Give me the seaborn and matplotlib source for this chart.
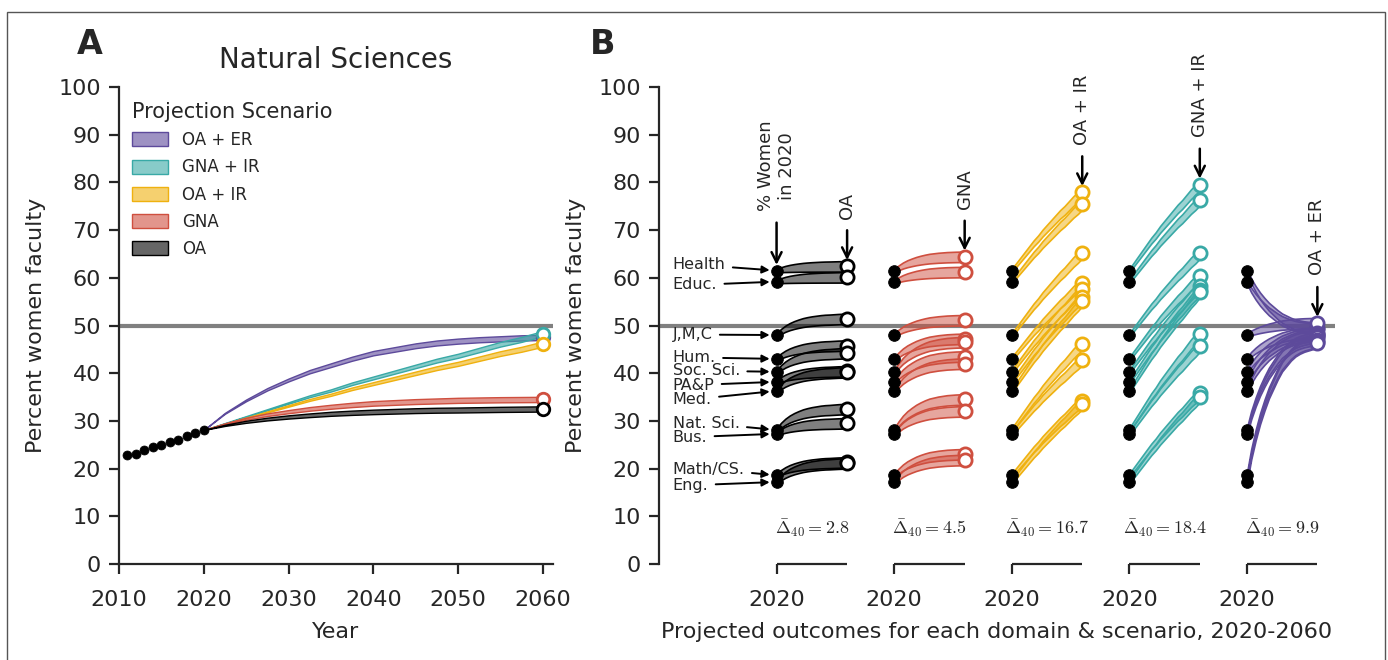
import numpy as np
import pandas as pd
import matplotlib
matplotlib.use("Agg")
import matplotlib.pyplot as plt
from matplotlib.patches import Patch, Rectangle
from matplotlib.colors import to_rgba
import seaborn as sns

# ---- data ----
SCENARIOS = ['OA', 'GNA', 'OA + IR', 'GNA + IR', 'OA + ER']
COLORS = ['#000000', '#cf4f3f', '#efb10f', '#39a9a6', '#5d4a9b']
DELTA_40 = [2.8, 4.5, 16.7, 18.4, 9.9]

DOMAINS = ['Health', 'Educ.', 'J,M,C', 'Hum.', 'Soc. Sci.', 'PA&P', 'Med.',
           'Nat. Sci.', 'Bus.', 'Math/CS.', 'Eng.']
PCT_2020 = [61.5, 59.2, 48.0, 43.0, 40.3, 38.2, 36.3, 28.1, 27.3, 18.6, 17.2]
LABEL_Y = [62.7, 58.5, 48.1, 43.3, 40.5, 37.5, 34.5, 29.5, 26.6, 19.9, 16.5]

END_OA = [62.4, 60.1, 51.4, 45.8, 44.2, 40.4, 40.2, 32.5, 29.5, 21.3, 21.1]
END_GNA = [64.4, 61.2, 51.1, 47.2, 46.5, 43.5, 42.0, 34.5, 32.0, 23.0, 21.8]
END_OA_IR = [77.9, 75.4, 65.2, 59.0, 57.6, 56.0, 55.2, 46.1, 42.8, 34.2, 33.6]
END_GNA_IR = [79.5, 76.3, 65.1, 60.3, 58.3, 57.5, 57.0, 48.3, 45.6, 35.8, 35.0]
END_OA_ER = [49.5, 49.3, 50.5, 48.5, 48.3, 48.0, 47.8, 47.5, 47.0, 46.5, 46.3]
END_ALL = [END_OA, END_GNA, END_OA_IR, END_GNA_IR, END_OA_ER]

# share of the 2020->2060 change reached at each year
PROFILE_YEARS = [2020, 2022.5, 2025, 2027.5, 2030, 2032.5, 2035, 2037.5, 2040,
                 2042.5, 2045, 2047.5, 2050, 2052.5, 2055, 2057.5, 2060]
PROG_OA = [0, .22, .39, .52, .62, .70, .77, .82, .86, .89, .92, .94, .95, .965, .98, .99, 1.0]
PROG_GNA = [0, .20, .37, .50, .60, .69, .76, .82, .87, .90, .93, .95, .97, .98, .99, .995, 1.0]
PROG_OA_IR = [0, .07, .14, .21, .28, .35, .41, .48, .54, .60, .66, .72, .77, .83, .89, .94, 1.0]
PROG_GNA_IR = [0, .07, .14, .21, .28, .35, .41, .48, .54, .60, .66, .72, .77, .83, .89, .94, 1.0]
PROG_OA_ER = [0, .18, .32, .44, .54, .63, .70, .77, .83, .87, .91, .94, .96, .975, .985, .995, 1.0]
PROG_ALL = [PROG_OA, PROG_GNA, PROG_OA_IR, PROG_GNA_IR, PROG_OA_ER]

NATSCI_YEARS = [2011, 2012, 2013, 2014, 2015, 2016, 2017, 2018, 2019, 2020]
NATSCI_PCT = [22.8, 23.1, 23.9, 24.5, 25.0, 25.5, 25.9, 26.8, 27.5, 28.1]
NAT_IDX = DOMAINS.index('Nat. Sci.')

# ---- style ----
sns.set_style('ticks')
plt.rcParams.update({
    'font.family': ['DejaVu Sans'],
    'mathtext.fontset': 'cm',
    'axes.linewidth': 1.6,
    'xtick.major.width': 1.6, 'ytick.major.width': 1.6,
    'xtick.major.size': 7, 'ytick.major.size': 7,
    'xtick.major.pad': 12, 'ytick.major.pad': 6,
    'xtick.labelsize': 16, 'ytick.labelsize': 16,
})

fig = plt.figure(figsize=(13.88, 6.6), dpi=100)
axA = fig.add_axes([119 / 1388, 96 / 660, (553 - 119) / 1388, 477 / 660])
axB = fig.add_axes([659 / 1388, 96 / 660, (1335 - 659) / 1388, 477 / 660])

# ---- Panel A: Natural Sciences ----
axA.axhline(50, color='gray', lw=3, zorder=1)
years = np.array(PROFILE_YEARS)
for s in [4, 3, 2, 1, 0]:
    prog = np.array(PROG_ALL[s])
    start = NATSCI_PCT[-1]
    end = END_ALL[s][NAT_IDX]
    mid = start + prog * (end - start)
    hw = 0.55 * prog
    axA.fill_between(years, mid - hw, mid + hw, facecolor=to_rgba(COLORS[s], 0.6),
                     edgecolor=COLORS[s], lw=1, zorder=3)
for s in [4, 3, 2, 1, 0]:
    axA.plot(2060, END_ALL[s][NAT_IDX], 'o', ms=9, mfc='white', mec=COLORS[s],
             mew=2, zorder=6, clip_on=False)
sns.scatterplot(x=NATSCI_YEARS, y=NATSCI_PCT, color='black', s=42, edgecolor='black',
                zorder=5, ax=axA, legend=False)

axA.set_xlim(2010, 2061.2)
axA.set_ylim(0, 100)
axA.set_xticks(range(2010, 2061, 10))
axA.set_yticks(range(0, 101, 10))
axA.set_xlabel('Year', fontsize=16, labelpad=8)
axA.set_ylabel('Percent women faculty', fontsize=16, labelpad=9)
axA.set_title('Natural Sciences', fontsize=20, pad=14)
sns.despine(ax=axA)

handles = [Patch(facecolor=to_rgba(COLORS[s], 0.6), edgecolor=COLORS[s], lw=1)
           for s in [4, 3, 2, 1, 0]]
labels = [SCENARIOS[s] for s in [4, 3, 2, 1, 0]]
axA.legend(handles, labels, title='Projection Scenario', loc='upper left',
           bbox_to_anchor=(-0.005, 1.0), frameon=False, fontsize=12, title_fontsize=15,
           handlelength=2.2, handleheight=0.9, labelspacing=0.55, alignment='left')

# ---- Panel B: all domains, all scenarios ----
SPAN = 0.6
axB.axhline(50, color='gray', lw=3, zorder=1)
for k in range(5):
    prog = np.array(PROG_ALL[k])
    xs = k + (years - 2020) / 40 * SPAN
    for d in range(len(DOMAINS)):
        start = PCT_2020[d]
        end = END_ALL[k][d]
        mid = start + prog * (end - start)
        hw = 0.35 + 0.75 * prog
        axB.fill_between(xs, mid - hw, mid + hw, facecolor=to_rgba(COLORS[k], 0.5),
                         edgecolor=COLORS[k], lw=1.2, zorder=3)
    sns.scatterplot(x=[k] * len(DOMAINS), y=PCT_2020, color='black', s=70,
                    edgecolor='black', zorder=5, ax=axB, legend=False)
    axB.plot([k + SPAN] * len(DOMAINS), END_ALL[k], 'o', ls='none', ms=9.5,
             mfc='white', mec=COLORS[k], mew=2, zorder=6)
    # bracket in place of the bottom spine
    axB.plot([k, k + SPAN], [0, 0], color='#262626', lw=1.6, clip_on=False,
             solid_capstyle='butt', zorder=2)
    axB.text(k + SPAN / 2, 7.5, rf'$\bar{{\Delta}}_{{40}} = {DELTA_40[k]}$',
             ha='center', va='center', fontsize=13)
    top = END_ALL[k][0] if k < 4 else max(END_ALL[k])
    axB.annotate(SCENARIOS[k], xy=(k + SPAN, top + 1.3), xytext=(k + SPAN, top + 10),
                 rotation=90, ha='center', va='bottom', fontsize=13,
                 arrowprops=dict(arrowstyle='->', color='black', lw=1.8,
                                 mutation_scale=18, shrinkA=6, shrinkB=0))

axB.annotate('% Women\nin 2020', xy=(0, PCT_2020[0] + 1.2), xytext=(0, PCT_2020[0] + 12.5),
             rotation=90, ha='center', va='bottom', fontsize=13, multialignment='center',
             arrowprops=dict(arrowstyle='->', color='black', lw=1.8,
                             mutation_scale=18, shrinkA=6, shrinkB=0))

for d, name in enumerate(DOMAINS):
    axB.annotate(name, xy=(0, PCT_2020[d]), xytext=(-0.885, LABEL_Y[d]),
                 ha='left', va='center', fontsize=11.5,
                 arrowprops=dict(arrowstyle='-|>', color='black', lw=1.4,
                                 mutation_scale=11, shrinkA=3, shrinkB=5))

axB.set_xlim(-1.0, 4.75)
axB.set_ylim(0, 100)
axB.set_yticks(range(0, 101, 10))
axB.set_xticks(range(5))
axB.set_xticklabels(['2020'] * 5)
axB.set_ylabel('Percent women faculty', fontsize=16, labelpad=9)
axB.set_xlabel('Projected outcomes for each domain & scenario, 2020-2060', fontsize=16,
               labelpad=8)
sns.despine(ax=axB)
axB.spines['bottom'].set_visible(False)

# panel letters and outer frame
fig.text(90 / 1388, 1 - 45 / 660, 'A', fontsize=24, fontweight='bold', ha='center', va='center')
fig.text(603 / 1388, 1 - 45 / 660, 'B', fontsize=24, fontweight='bold', ha='center', va='center')
fig.add_artist(Rectangle((7 / 1388, -0.05), (1385 - 7) / 1388, 1.05 - 12 / 660,
                         transform=fig.transFigure, fill=False, edgecolor='#555555', lw=1))

fig.savefig('out.png', dpi=100)
